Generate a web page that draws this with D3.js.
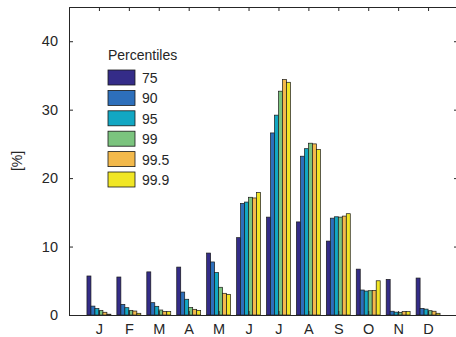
<!DOCTYPE html>
<html>
<head>
<meta charset="utf-8">
<script src="https://cdn.jsdelivr.net/npm/d3@7"></script>
<style>
  body { margin: 0; background: #fff; }
  text { font-family: "Liberation Sans", Arial, sans-serif; fill: #262626; }
</style>
</head>
<body>
<svg id="chart" width="456" height="337"></svg>
<script>
// data
const months = ["J", "F", "M", "A", "M", "J", "J", "A", "S", "O", "N", "D"];
const percentiles = ["75", "90", "95", "99", "99.5", "99.9"];
const colors = ["#342c88", "#2d6fbb", "#12a7c3", "#7bc47e", "#f3b94b", "#f1e625"];

const p75  = [5.7, 5.55, 6.3, 7.0, 9.05, 11.3, 14.3, 13.6, 10.8, 6.7, 5.2, 5.4];
const p90  = [1.3, 1.55, 1.8, 3.35, 7.75, 16.3, 26.6, 23.2, 14.15, 3.65, 0.55, 0.97];
const p95  = [0.95, 1.07, 1.27, 2.3, 6.2, 16.5, 29.2, 24.3, 14.35, 3.5, 0.42, 0.86];
const p99  = [0.68, 0.68, 0.73, 1.1, 4.05, 17.2, 32.7, 25.1, 14.3, 3.55, 0.36, 0.63];
const p995 = [0.4, 0.58, 0.53, 0.83, 3.17, 17.1, 34.4, 25.0, 14.45, 3.6, 0.5, 0.55];
const p999 = [0.12, 0.25, 0.5, 0.68, 3.02, 17.9, 34.0, 24.2, 14.8, 5.0, 0.5, 0.25];
const series = [p75, p90, p95, p99, p995, p999];

const yTicks = [0, 10, 20, 30, 40];

// constants
const margin = { top: 7, left: 69, right: -2, bottom: 22 };
const width = 456, height = 337;

const svg = d3.select("#chart");

const x = d3.scaleLinear()
  .domain([0, 13])
  .range([margin.left, width - margin.right]);

const y = d3.scaleLinear()
  .domain([0, 45])
  .range([height - margin.bottom, margin.top]);

// offsets of the six bars inside one month group
const inner = d3.scaleBand()
  .domain(percentiles)
  .range([-0.4, 0.4]);

// bars
const rows = [];
months.forEach((m, i) => {
  percentiles.forEach((p, j) => {
    rows.push({ month: i + 1, key: p, color: colors[j], value: series[j][i] });
  });
});

svg.append("g")
  .selectAll("rect")
  .data(rows)
  .join("rect")
    .attr("x", d => x(d.month + inner(d.key)))
    .attr("width", d => x(inner.bandwidth()) - x(0))
    .attr("y", d => y(d.value))
    .attr("height", d => y(0) - y(d.value))
    .attr("fill", d => d.color)
    .attr("stroke", "#1a1a1a")
    .attr("stroke-width", 0.7);

// axes (ticks pointing inwards)
const monthPos = months.map((m, i) => i + 1);

svg.append("g")
  .attr("transform", "translate(0," + y(0) + ")")
  .call(d3.axisBottom(x).tickValues(monthPos).tickSize(-4)
    .tickFormat((d, i) => months[i]).tickPadding(9));

svg.append("g")
  .attr("transform", "translate(0," + y(45) + ")")
  .call(d3.axisTop(x).tickValues(monthPos).tickSize(-4).tickFormat(""));

svg.append("g")
  .attr("transform", "translate(" + x(0) + ",0)")
  .call(d3.axisLeft(y).tickValues(yTicks).tickSize(-4).tickPadding(11));

svg.append("g")
  .attr("transform", "translate(" + x(13) + ",0)")
  .call(d3.axisRight(y).tickValues(yTicks).tickSize(-4).tickFormat(""));

svg.selectAll(".domain").attr("stroke", "#262626");
svg.selectAll(".tick line").attr("stroke", "#262626");
svg.selectAll(".tick text")
  .attr("font-size", 14.5)
  .attr("font-family", "Liberation Sans, Arial, sans-serif")
  .attr("fill", "#262626");

// y label
svg.append("text")
  .attr("transform", "translate(22," + y(22.5) + ") rotate(-90)")
  .attr("text-anchor", "middle")
  .attr("font-size", 14)
  .text("[%]");

// legend
const legend = svg.append("g").attr("transform", "translate(108,48)");

legend.append("text")
  .attr("x", 0)
  .attr("y", 12)
  .attr("font-size", 14)
  .text("Percentiles");

const item = legend.selectAll("g.item")
  .data(percentiles)
  .join("g")
    .attr("class", "item")
    .attr("transform", (d, i) => "translate(0," + (22 + i * 20.4) + ")");

item.append("rect")
  .attr("width", 27)
  .attr("height", 15)
  .attr("fill", (d, i) => colors[i])
  .attr("stroke", "#1a1a1a")
  .attr("stroke-width", 0.8);

item.append("text")
  .attr("x", 34)
  .attr("y", 13)
  .attr("font-size", 14)
  .text(d => d);
</script>
</body>
</html>
